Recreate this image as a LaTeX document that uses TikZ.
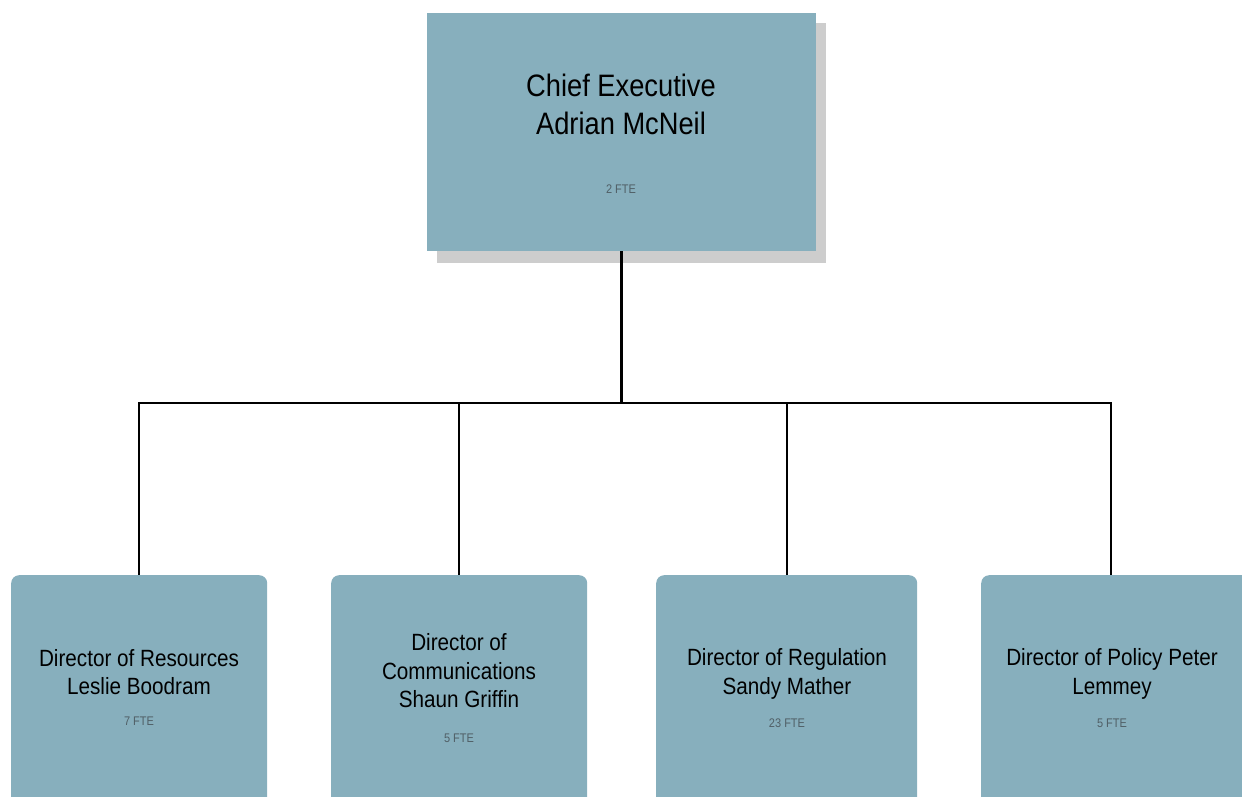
\documentclass[tikz,border=0pt]{standalone}
\usepackage{fontspec}
\setmainfont{Liberation Sans}[FakeStretch=0.88]
\definecolor{unitblue}{HTML}{87AFBD}
\definecolor{ftegrey}{HTML}{505F66}
\definecolor{shadowgrey}{HTML}{CDCDCD}

\tikzset{
  unitbox/.style={fill=unitblue, inner sep=0pt, anchor=north west, minimum height=260pt},
  dirbox/.style={unitbox, rounded corners=8pt},
  unittext/.style={align=center, inner sep=0pt, font=\fontsize{23.5}{28.5}\selectfont},
  fte/.style={inner sep=0pt, text=ftegrey, font=\fontsize{12.5}{14}\selectfont},
  orgline/.style={line width=2pt, black}
}

\begin{document}
\begin{tikzpicture}[x=1pt,y=-1pt]
\useasboundingbox (0,0) rectangle (1242,797);

% chief executive
\fill[shadowgrey] (437,23) rectangle (826,263);
\node[unitbox, minimum width=389pt, minimum height=238pt] (ceo) at (427,13) {};
\node[unittext, font=\fontsize{31}{38}\selectfont] (ceo-name) at (621,104) {Chief Executive\\Adrian McNeil};
\node[fte] (ceo-fte) at (621,189) {2 FTE};

% directors
\node[dirbox, minimum width=256pt] (res) at (11,575) {};
\node[dirbox, minimum width=256pt] (comms) at (331,575) {};
\node[dirbox, minimum width=261pt] (reg) at (656,575) {};
\node[dirbox, minimum width=270pt] (pol) at (981,575) {};

\node[unittext] (res-name) at (139,672) {Director of Resources\\Leslie Boodram};
\node[fte] (res-fte) at (139,721) {7 FTE};
\node[unittext] (comms-name) at (459,671) {Director of\\Communications\\Shaun Griffin};
\node[fte] (comms-fte) at (459,738) {5 FTE};
\node[unittext] (reg-name) at (787,674) {Director of Regulation\\Sandy Mather};
\node[fte] (reg-fte) at (787,723) {23 FTE};
\node[unittext] (pol-name) at (1112,674) {Director of Policy Peter\\Lemmey};
\node[fte] (pol-fte) at (1112,723) {5 FTE};

% reporting lines
\coordinate (bus) at (ceo.south |- 0,403);
\draw[orgline, line width=2.5pt] (ceo.south) -- (bus);
\draw[orgline] (bus) -| (res.north);
\draw[orgline] (bus) -| (comms.north);
\draw[orgline] (bus) -| (reg.north);
\draw[orgline] (bus) -| ([xshift=-5pt]pol.north);
\end{tikzpicture}
\end{document}
